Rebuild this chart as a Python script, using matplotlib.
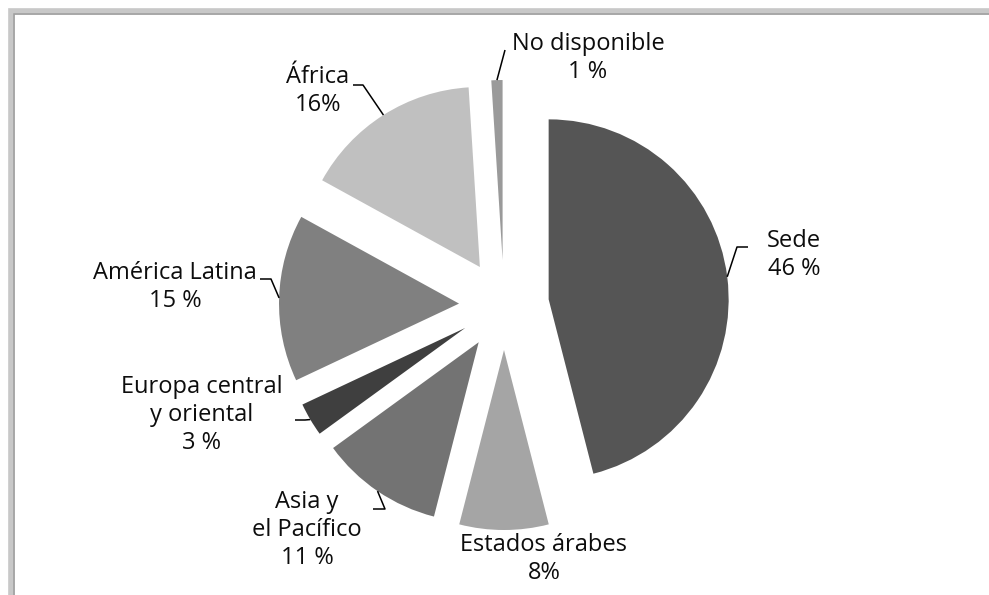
import numpy as np
import matplotlib.pyplot as plt
from matplotlib.lines import Line2D

# Distribution by region (percent)
regions = ["Sede", "Estados árabes", "Asia y el Pacífico",
           "Europa central y oriental", "América Latina", "África",
           "No disponible"]
shares = [46, 8, 11, 3, 15, 16, 1]
labels = ["Sede\n46 %", "Estados árabes\n8%", "Asia y\nel Pacífico\n11 %",
          "Europa central\ny oriental\n3 %", "América Latina\n15 %",
          "África\n16%", "No disponible\n1 %"]
colors = ["#555555", "#a5a5a5", "#737373", "#3f3f3f", "#808080",
          "#c0c0c0", "#9a9a9a"]

W, H = 989, 595
fig = plt.figure(figsize=(W / 100, H / 100), dpi=100)
ax = fig.add_axes([0, 0, 1, 1])

cx, cy, R, gap = 504, H - 305, 180, 45
wedges, _ = ax.pie(shares, radius=R, center=(cx, cy), startangle=90,
                   counterclock=False, colors=colors,
                   explode=[gap] * len(shares),
                   wedgeprops=dict(linewidth=0))

ax.set_xlim(0, W)
ax.set_ylim(0, H)
ax.set_aspect("equal")
ax.axis("off")

# label block centres (x, y from top) and leader elbows
text_pos = [(794, 255), (544, 559), (307, 530), (202, 415),
            (175, 287), (318, 91), (588, 58)]
elbows = [[(737, 247), (748, 247)], None, [(385, 509), (373, 509)],
          [(305, 420), (295, 420)], [(271, 279), (260, 279)],
          [(363, 85), (353, 85)], [(505, 50)]]

for w, lab, (tx, ty), elb in zip(wedges, labels, text_pos, elbows):
    mid = np.deg2rad((w.theta1 + w.theta2) / 2)
    wx, wy = w.center
    ax.text(tx, H - ty, lab, ha="center", va="center", fontsize=17,
            family="Open Sans", linespacing=1.2, color="#0d0d0d")
    if elb is None:
        continue
    px = [wx + R * np.cos(mid)] + [p[0] for p in elb]
    py = [wy + R * np.sin(mid)] + [H - p[1] for p in elb]
    ax.plot(px, py, color="black", lw=1.1, solid_capstyle="butt")

# chart frame (top and left edges)
for lw, col, off in [(4.8, "#c8c8c8", 10.5), (1.1, "#9e9e9e", 13.5)]:
    fig.add_artist(Line2D([off / W, off / W, 1.0],
                          [0.0, 1 - off / H, 1 - off / H],
                          transform=fig.transFigure, color=col, lw=lw,
                          solid_joinstyle="miter"))

fig.savefig("out.png", dpi=100)
